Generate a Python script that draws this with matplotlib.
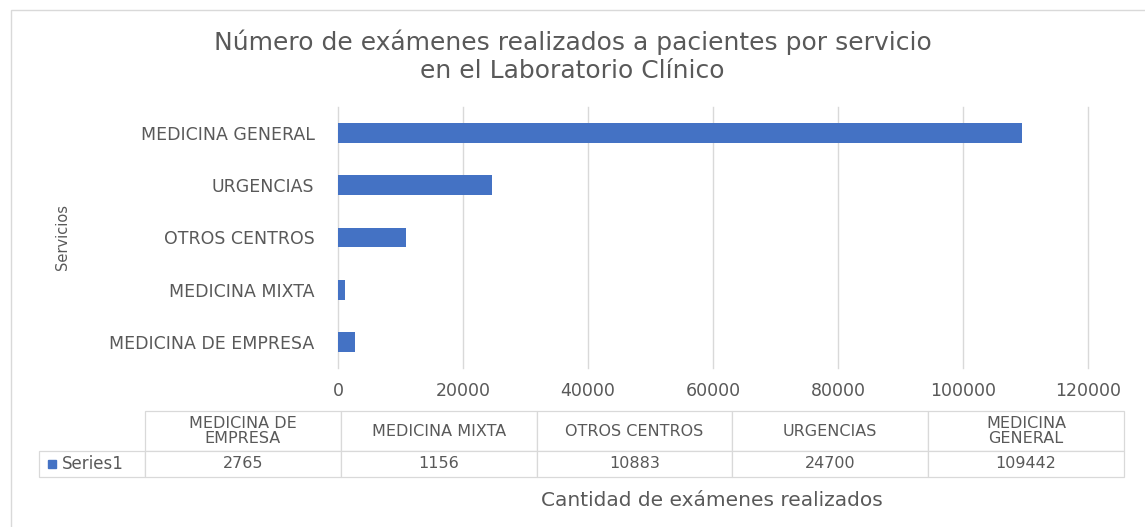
import matplotlib.pyplot as plt
from matplotlib.patches import Rectangle

services = ["MEDICINA DE EMPRESA", "MEDICINA MIXTA", "OTROS CENTROS", "URGENCIAS", "MEDICINA GENERAL"]
table_headers = ["MEDICINA DE\nEMPRESA", "MEDICINA MIXTA", "OTROS CENTROS", "URGENCIAS", "MEDICINA\nGENERAL"]
exams = [2765, 1156, 10883, 24700, 109442]
series_name = "Series1"
x_ticks = [0, 20000, 40000, 60000, 80000, 100000, 120000]

BAR = "#4472C4"
TEXT = "#595959"
GRID = "#D9D9D9"

plt.rcParams["font.family"] = ["DejaVu Sans"]

W, H = 1145, 527
fig = plt.figure(figsize=(W / 100, H / 100), dpi=100)


def fx(px):
    return px / W


def fy(py):
    return 1 - py / H


# chart border
fig.add_artist(Rectangle((fx(11), fy(560)), fx(1160) - fx(11), fy(10) - fy(560),
                         transform=fig.transFigure, fill=False, edgecolor=GRID, linewidth=1.0))

ax = fig.add_axes([fx(338), fy(368), fx(1088) - fx(338), fy(107) - fy(368)])
ax.barh(range(len(services)), exams, height=0.38, color=BAR, zorder=3)
ax.set_ylim(-0.5, len(services) - 0.5)
ax.set_xlim(0, 120000)
ax.set_xticks(x_ticks, [str(t) for t in x_ticks])
ax.set_yticks(range(len(services)), services)
ax.grid(axis="x", color=GRID, linewidth=1.0, zorder=0)
for gl in ax.get_xgridlines():
    gl.set_clip_on(False)
for side in ax.spines.values():
    side.set_visible(False)
ax.tick_params(length=0, colors=TEXT, labelsize=12.5)
ax.tick_params(axis="x", pad=10)
ax.tick_params(axis="y", pad=17)
ax.set_ylabel("Servicios", color=TEXT, fontsize=10.5)
ax.yaxis.set_label_coords(-(338 - 70) / 750, 0.5)

fig.text(0.5, fy(42), "Número de exámenes realizados a pacientes por servicio",
         ha="center", va="center", fontsize=18, color=TEXT)
fig.text(0.5, fy(71), "en el Laboratorio Clínico",
         ha="center", va="center", fontsize=18, color=TEXT)

# data table
tax = fig.add_axes([fx(39), fy(477), fx(1124) - fx(39), fy(411) - fy(477)])
tax.axis("off")
col_w = [106] + [196] * len(exams)
tbl = tax.table(cellText=[[""] + [str(v) for v in exams]],
                colLabels=[""] + table_headers,
                colWidths=[w / sum(col_w) for w in col_w],
                cellLoc="center", bbox=[0, 0, 1, 1])
tbl.auto_set_font_size(False)
for (r, c), cell in tbl.get_celld().items():
    cell.set_edgecolor(GRID)
    cell.set_linewidth(0.9)
    cell.get_text().set_color(TEXT)
    cell.get_text().set_fontsize(11.5)
    cell.get_text().set_linespacing(1.05)
    cell.set_height(40 if r == 0 else 26)
tbl[0, 0].visible_edges = ""

# legend key inside the table's row label cell
fig.add_artist(Rectangle((fx(48), fy(468)), fx(56) - fx(48), fy(460) - fy(468),
                         transform=fig.transFigure, color=BAR))
fig.text(fx(62), fy(464), series_name, ha="left", va="center", fontsize=12, color=TEXT)

fig.text(fx(712), fy(500), "Cantidad de exámenes realizados",
         ha="center", va="center", fontsize=14.5, color=TEXT)

fig.savefig("out.png", dpi=100)
